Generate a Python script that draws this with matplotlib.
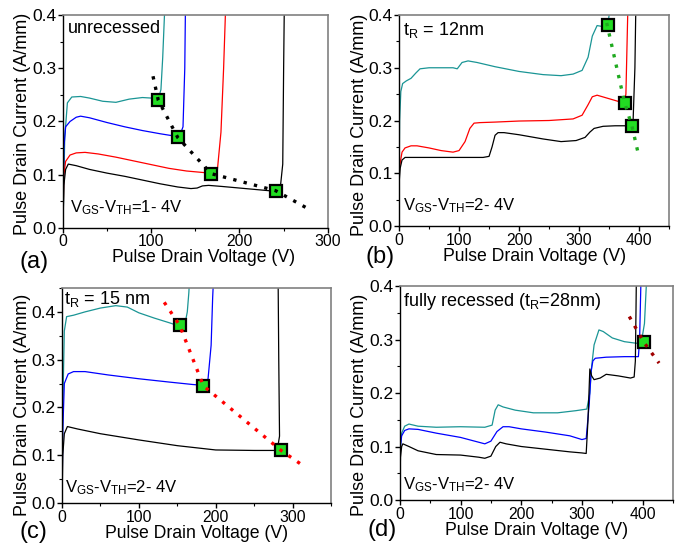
import matplotlib
matplotlib.use("Agg")
import matplotlib.pyplot as plt
from matplotlib.ticker import MultipleLocator, FormatStrFormatter

plt.rcParams['font.family'] = ['Liberation Sans', 'DejaVu Sans']
plt.rcParams['mathtext.fontset'] = 'custom'
plt.rcParams['mathtext.rm'] = 'Liberation Sans'
plt.rcParams['mathtext.it'] = 'Liberation Sans'

TEAL = '#1a9595'
BLUE = '#0000ff'
RED = '#ff0000'
BLACK = '#000000'

# ---------------- Panel (a): unrecessed ----------------
a_teal_x = [0, 2, 5, 10, 20, 30, 45, 60, 75, 90, 100, 108, 111, 113, 115, 117]
a_teal_y = [0, 0.17, 0.235, 0.246, 0.247, 0.244, 0.238, 0.236, 0.242, 0.245, 0.244, 0.242, 0.26, 0.32, 0.40, 0.45]
a_blue_x = [0, 1, 3, 8, 15, 20, 30, 50, 70, 90, 110, 125, 132, 136, 138, 139]
a_blue_y = [0, 0.15, 0.19, 0.2, 0.208, 0.21, 0.207, 0.198, 0.19, 0.183, 0.177, 0.173, 0.172, 0.19, 0.3, 0.45]
a_red_x = [0, 1, 3, 8, 15, 25, 40, 60, 80, 100, 120, 140, 160, 170, 175, 179, 182, 185]
a_red_y = [0, 0.1, 0.125, 0.137, 0.141, 0.142, 0.139, 0.133, 0.126, 0.119, 0.112, 0.107, 0.104, 0.103, 0.11, 0.18, 0.3, 0.45]
a_black_x = [0, 1, 3, 6, 15, 30, 50, 70, 90, 110, 130, 145, 152, 158, 165, 180, 200, 220, 240, 246, 249, 250, 251]
a_black_y = [0, 0.08, 0.11, 0.12, 0.117, 0.11, 0.103, 0.097, 0.09, 0.083, 0.077, 0.074, 0.075, 0.079, 0.08, 0.078, 0.075, 0.072, 0.069, 0.072, 0.12, 0.3, 0.45]
a_mark_x = [108, 130, 168, 241]
a_mark_y = [0.240, 0.170, 0.102, 0.070]
a_trend_x = [102, 108, 130, 168, 241, 280]
a_trend_y = [0.285, 0.240, 0.170, 0.102, 0.070, 0.034]

# ---------------- Panel (b): tR = 12 nm ----------------
b_teal_x = [0, 1, 3, 6, 12, 20, 28, 35, 50, 70, 90, 97, 105, 115, 130, 160, 200, 240, 270, 290, 305, 315, 322, 330, 340, 345, 348, 350, 353]
b_teal_y = [0.08, 0.2, 0.255, 0.27, 0.275, 0.28, 0.29, 0.298, 0.3, 0.3, 0.3, 0.298, 0.31, 0.313, 0.31, 0.302, 0.293, 0.287, 0.285, 0.288, 0.295, 0.32, 0.36, 0.38, 0.378, 0.38, 0.382, 0.4, 0.45]
b_red_x = [0, 2, 5, 10, 20, 30, 50, 70, 90, 100, 110, 118, 125, 135, 160, 200, 250, 290, 305, 315, 322, 330, 345, 360, 375, 378, 380, 382]
b_red_y = [0.1, 0.12, 0.14, 0.148, 0.152, 0.152, 0.148, 0.143, 0.14, 0.143, 0.16, 0.185, 0.195, 0.196, 0.197, 0.199, 0.2, 0.203, 0.21, 0.23, 0.245, 0.248, 0.243, 0.238, 0.233, 0.25, 0.35, 0.45]
b_black_x = [0, 2, 5, 10, 30, 60, 100, 140, 150, 155, 160, 165, 175, 200, 240, 270, 295, 310, 318, 325, 340, 360, 385, 390, 393, 395]
b_black_y = [0.08, 0.11, 0.125, 0.13, 0.13, 0.13, 0.13, 0.13, 0.132, 0.15, 0.172, 0.177, 0.177, 0.173, 0.165, 0.16, 0.162, 0.168, 0.178, 0.185, 0.189, 0.19, 0.19, 0.2, 0.3, 0.45]
b_mark_x = [348, 376, 388]
b_mark_y = [0.382, 0.233, 0.190]
b_trend_x = [346, 376, 388, 398]
b_trend_y = [0.385, 0.233, 0.190, 0.140]

# ---------------- Panel (c): tR = 15 nm ----------------
c_teal_x = [0, 1, 3, 6, 15, 30, 50, 70, 85, 100, 120, 140, 153, 160, 163, 165, 167]
c_teal_y = [0, 0.2, 0.36, 0.39, 0.393, 0.4, 0.408, 0.413, 0.41, 0.398, 0.387, 0.377, 0.37, 0.375, 0.4, 0.44, 0.5]
c_blue_x = [0, 1, 3, 8, 15, 30, 60, 100, 140, 170, 185, 190, 194, 196, 198]
c_blue_y = [0, 0.15, 0.25, 0.27, 0.275, 0.275, 0.268, 0.26, 0.253, 0.248, 0.246, 0.26, 0.33, 0.43, 0.5]
c_black_x = [0, 1, 3, 7, 20, 50, 100, 150, 200, 250, 280, 283, 282, 281]
c_black_y = [0, 0.1, 0.145, 0.16, 0.155, 0.145, 0.132, 0.12, 0.111, 0.11, 0.11, 0.14, 0.3, 0.5]
c_mark_x = [153, 184, 285]
c_mark_y = [0.372, 0.245, 0.110]
c_trend_x = [133, 153, 184, 285, 312]
c_trend_y = [0.420, 0.372, 0.245, 0.110, 0.080]

# ---------------- Panel (d): fully recessed ----------------
d_teal_x = [0, 1, 3, 8, 15, 30, 60, 100, 140, 152, 157, 162, 170, 190, 220, 260, 290, 308, 313, 316, 320, 328, 335, 350, 370, 390, 398, 403, 406, 408]
d_teal_y = [0, 0.1, 0.125, 0.138, 0.142, 0.138, 0.136, 0.137, 0.136, 0.14, 0.168, 0.178, 0.174, 0.168, 0.163, 0.163, 0.167, 0.17, 0.2, 0.25, 0.29, 0.318, 0.315, 0.303, 0.296, 0.293, 0.296, 0.33, 0.4, 0.45]
d_blue_x = [0, 1, 3, 8, 15, 30, 60, 100, 130, 140, 150, 160, 170, 180, 200, 240, 280, 300, 307, 312, 315, 318, 322, 340, 370, 393, 395, 397, 398]
d_blue_y = [0, 0.1, 0.12, 0.13, 0.133, 0.132, 0.125, 0.117, 0.108, 0.105, 0.11, 0.128, 0.137, 0.137, 0.133, 0.127, 0.12, 0.113, 0.115, 0.18, 0.24, 0.26, 0.265, 0.267, 0.268, 0.268, 0.3, 0.4, 0.45]
d_black_x = [0, 1, 3, 5, 15, 30, 60, 100, 130, 140, 150, 158, 165, 175, 200, 240, 280, 300, 307, 310, 313, 316, 320, 330, 340, 360, 380, 386, 388, 389, 390]
d_black_y = [0, 0.08, 0.1, 0.105, 0.1, 0.092, 0.085, 0.084, 0.08, 0.078, 0.082, 0.1, 0.108, 0.105, 0.1, 0.095, 0.09, 0.088, 0.087, 0.15, 0.245, 0.232, 0.225, 0.228, 0.235, 0.232, 0.228, 0.23, 0.26, 0.35, 0.45]
d_mark_x = [402]
d_mark_y = [0.295]
d_trend_x = [378, 402, 427]
d_trend_y = [0.343, 0.295, 0.256]

XLABEL = 'Pulse Drain Voltage (V)'
YLABEL = 'Pulse Drain Current (A/mm)'

fig = plt.figure(figsize=(6.8, 5.48), dpi=100)

def make_ax(rect, xmax, ymax, xmaj, xl_x, yl_y):
    ax = fig.add_axes(rect)
    ax.set_xlim(0, xmax)
    ax.set_ylim(0, ymax)
    ax.xaxis.set_major_locator(MultipleLocator(xmaj))
    ax.xaxis.set_minor_locator(MultipleLocator(xmaj / 2))
    ax.yaxis.set_major_locator(MultipleLocator(0.1))
    ax.yaxis.set_minor_locator(MultipleLocator(0.05))
    ax.yaxis.set_major_formatter(FormatStrFormatter('%.1f'))
    ax.tick_params(which='major', direction='out', length=3.5, width=1, pad=1.2)
    ax.tick_params(axis='x', which='major', labelsize=11.3)
    ax.tick_params(axis='y', which='major', labelsize=12.5)
    ax.tick_params(which='minor', direction='out', length=2.2, width=0.8)
    for s in ['left', 'bottom']:
        ax.spines[s].set_color('black')
        ax.spines[s].set_linewidth(1.0)
    for s in ['top', 'right']:
        ax.spines[s].set_color('#808080')
        ax.spines[s].set_linewidth(1.2)
    ax.set_xlabel(XLABEL, fontsize=12.7, labelpad=0)
    ax.set_ylabel(YLABEL, fontsize=13, labelpad=0.5)
    ax.xaxis.label.set_x(xl_x)
    ax.yaxis.label.set_y(yl_y)
    return ax

def curves(ax, data):
    for x, y, c in data:
        ax.plot(x, y, color=c, lw=0.9, clip_on=True)

def marks(ax, mx, my, tx, ty, tc):
    ax.plot(mx, my, linestyle='none', marker='s', markersize=8.5,
            markerfacecolor='#22dd22', markeredgecolor='black', markeredgewidth=1.6, zorder=4)
    ax.plot(tx, ty, linestyle=(0, (1, 2.2)), color=tc, lw=2.4, zorder=5)

VGS1 = r'V$_{\mathrm{GS}}$-V$_{\mathrm{TH}}$=1- 4V'
VGS2 = r'V$_{\mathrm{GS}}$-V$_{\mathrm{TH}}$=2- 4V'

# (a)
axa = make_ax([0.0926, 0.584, 0.3894, 0.3886], 300, 0.4, 100, 0.53, 0.49)
curves(axa, [(a_teal_x, a_teal_y, TEAL), (a_blue_x, a_blue_y, BLUE),
             (a_red_x, a_red_y, RED), (a_black_x, a_black_y, BLACK)])
marks(axa, a_mark_x, a_mark_y, a_trend_x, a_trend_y, 'black')
axa.text(0.02, 0.975, 'unrecessed', transform=axa.transAxes, fontsize=13, va='top', ha='left')
axa.text(0.026, 0.05, VGS1, transform=axa.transAxes, fontsize=12, va='bottom', ha='left')
fig.text(0.029, 0.522, '(a)', fontsize=17, ha='left', va='center')

# (b)
axb = make_ax([0.5868, 0.5876, 0.3972, 0.385], 450, 0.4, 100, 0.5, 0.48)
curves(axb, [(b_teal_x, b_teal_y, TEAL), (b_red_x, b_red_y, RED), (b_black_x, b_black_y, BLACK)])
marks(axb, b_mark_x, b_mark_y, b_trend_x, b_trend_y, '#1faa1f')
axb.text(0.015, 0.975, r't$_{\mathrm{R}}$ = 12nm', transform=axb.transAxes, fontsize=13, va='top', ha='left')
axb.text(0.015, 0.05, VGS2, transform=axb.transAxes, fontsize=12, va='bottom', ha='left')
fig.text(0.537, 0.531, '(b)', fontsize=17, ha='left', va='center')

# (c)
axc = make_ax([0.0912, 0.0821, 0.3956, 0.3924], 350, 0.45, 100, 0.5, 0.455)
curves(axc, [(c_teal_x, c_teal_y, TEAL), (c_blue_x, c_blue_y, BLUE), (c_black_x, c_black_y, BLACK)])
marks(axc, c_mark_x, c_mark_y, c_trend_x, c_trend_y, RED)
axc.text(0.006, 0.995, r't$_{\mathrm{R}}$ = 15 nm', transform=axc.transAxes, fontsize=13, va='top', ha='left')
axc.text(0.012, 0.03, VGS2, transform=axc.transAxes, fontsize=12, va='bottom', ha='left')
fig.text(0.029, 0.030, '(c)', fontsize=17, ha='left', va='center')

# (d)
axd = make_ax([0.588, 0.0876, 0.4017, 0.3904], 450, 0.4, 100, 0.5, 0.445)
curves(axd, [(d_teal_x, d_teal_y, TEAL), (d_blue_x, d_blue_y, BLUE), (d_black_x, d_black_y, BLACK)])
marks(axd, d_mark_x, d_mark_y, d_trend_x, d_trend_y, '#a00000')
axd.text(0.01, 0.975, r'fully recessed (t$_{\mathrm{R}}$=28nm)', transform=axd.transAxes, fontsize=13, va='top', ha='left')
axd.text(0.011, 0.03, VGS2, transform=axd.transAxes, fontsize=12, va='bottom', ha='left')
fig.text(0.54, 0.033, '(d)', fontsize=17, ha='left', va='center')

fig.savefig('out.png', dpi=100)
